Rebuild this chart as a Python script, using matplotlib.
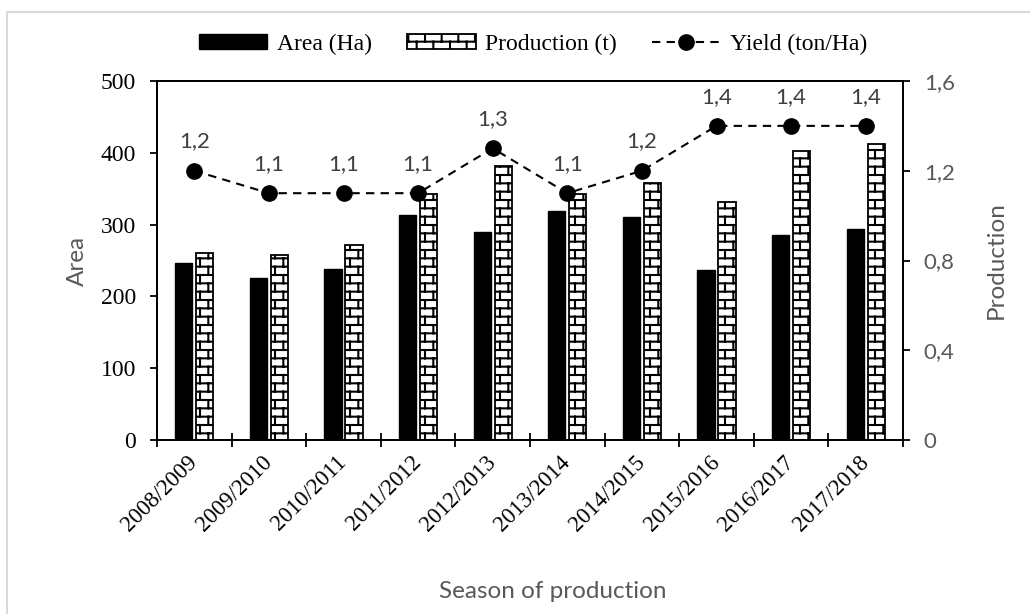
import warnings
import numpy as np
import matplotlib
matplotlib.use("Agg")
import matplotlib.pyplot as plt
import matplotlib.hatch as mhatch
from matplotlib.path import Path
from matplotlib.lines import Line2D
from matplotlib.ticker import FixedLocator

warnings.filterwarnings("ignore", message=".*hatch must consist.*")

seasons = ["2008/2009", "2009/2010", "2010/2011", "2011/2012", "2012/2013",
           "2013/2014", "2014/2015", "2015/2016", "2016/2017", "2017/2018"]
area = [247, 226, 238, 313, 289, 319, 310, 237, 286, 294]
production = [260, 258, 271, 343, 381, 342, 358, 332, 402, 412]
yield_ = [1.2, 1.1, 1.1, 1.1, 1.3, 1.1, 1.2, 1.4, 1.4, 1.4]
yield_labels = ["1,2", "1,1", "1,1", "1,1", "1,3", "1,1", "1,2", "1,4", "1,4", "1,4"]

left_ticks = [0, 100, 200, 300, 400, 500]
right_ticks = [0, 0.4, 0.8, 1.2, 1.6]
right_ticklabels = ["0", "0,4", "0,8", "1,2", "1,6"]

SERIF = "Liberation Serif"
SANS = "Lato"
GREY = "#595959"


# brick hatch, selected with 'b' in the hatch string
class BrickHatch(mhatch.HatchPatternBase):
    def __init__(self, hatch, density):
        n = hatch.count("b")
        self.rows = 2 * density * n
        self.cols = density * n
        # horizontal lines (rows + 1) and vertical joints per row
        self.num_vertices = 2 * (self.rows + 1) + 2 * self.rows * (self.cols + 1) if n else 0

    def set_vertices_and_codes(self, vertices, codes):
        verts = []
        for k in range(self.rows + 1):
            y = k / self.rows
            verts += [(0.0, y), (1.0, y)]
        for k in range(self.rows):
            y0, y1 = k / self.rows, (k + 1) / self.rows
            off = 0.0 if k % 2 == 0 else 0.5 / self.cols
            for j in range(self.cols + 1):
                x = off + j / self.cols
                verts += [(x, y0), (x, y1)]
        verts = np.array(verts)
        vertices[:len(verts)] = verts
        vertices[len(verts):] = verts[-1]
        codes[0::2] = Path.MOVETO
        codes[1::2] = Path.LINETO


mhatch._hatch_types.append(BrickHatch)
plt.rcParams["hatch.linewidth"] = 1.5

fig = plt.figure(figsize=(10.3, 6.14), dpi=100)
ax = fig.add_axes([157 / 1030, 1 - 440 / 614, 746 / 1030, 359 / 614])
ax2 = ax.twinx()

x = np.arange(len(seasons))
w = 0.23
ax.bar(x - w / 2 - 0.025, area, width=w, color="black", edgecolor="black",
       linewidth=1, label="Area (Ha)", zorder=2)
ax.bar(x + w / 2 + 0.025, production, width=w, color="white", edgecolor="black",
       linewidth=1.3, hatch="b", label="Production (t)", zorder=2)

line, = ax2.plot(x, yield_, color="black", linestyle="--", linewidth=1.5,
                 marker="o", markersize=11, label="Yield (ton/Ha)")
line.set_dashes([4, 3])
for xi, yi, lab in zip(x, yield_, yield_labels):
    ax2.annotate(lab, (xi, yi), xytext=(0, 21), textcoords="offset points",
                 ha="center", va="center", fontsize=16, color="#404040",
                 family=SANS)

ax.set_xlim(-0.5, len(seasons) - 0.5)
ax.set_ylim(0, 500)
ax2.set_ylim(0, 1.6)

ax.set_yticks(left_ticks)
ax.set_yticklabels([str(t) for t in left_ticks], family=SERIF, fontsize=17)
ax2.set_yticks(right_ticks)
ax2.set_yticklabels(right_ticklabels, family=SANS, fontsize=16, color=GREY)

ax.set_xticks(x)
ax.set_xticklabels(seasons, rotation=45, ha="right", va="center",
                   rotation_mode="anchor", family=SERIF, fontsize=16.5)
ax.xaxis.set_minor_locator(FixedLocator(np.arange(-0.5, len(seasons), 1.0)))
ax.tick_params(axis="x", which="major", length=0, pad=14)
ax.tick_params(axis="x", which="minor", direction="inout", length=9.5, width=1.3)
ax.tick_params(axis="y", direction="out", length=5, width=1.3, pad=10)
ax2.tick_params(axis="y", direction="out", length=5, width=1.3, pad=10)

for a in (ax, ax2):
    for s in a.spines.values():
        s.set_linewidth(1.3)
        s.set_color("black")

ax.set_ylabel("Area", family=SANS, fontsize=17.5, color=GREY)
ax.yaxis.set_label_coords(-0.092, 0.5)
ax2.set_ylabel("Production", family=SANS, fontsize=17.5, color=GREY)
ax2.yaxis.set_label_coords(1.111, 0.5)
ax.set_xlabel("Season of production", family=SANS, fontsize=17.5, color=GREY)
ax.xaxis.set_label_coords(0.531, -0.393)

handles = [ax.patches[0], ax.patches[len(seasons)], line]
fig.legend(handles, ["Area (Ha)", "Production (t)", "Yield (ton/Ha)"],
           loc="center", bbox_to_anchor=(533 / 1030, 1 - 44 / 614), ncol=3,
           frameon=False, prop={"family": SERIF, "size": 17},
           handlelength=2.9, handleheight=0.6, columnspacing=1.5,
           handletextpad=0.4)

# outer chart border (cropped: only top and left edges visible)
fig.add_artist(Line2D([7 / 1030, 7 / 1030, 1.0], [0.0, 1 - 12 / 614, 1 - 12 / 614],
                      transform=fig.transFigure, color="#d9d9d9", linewidth=1.5))

fig.savefig("out.png", dpi=100)
